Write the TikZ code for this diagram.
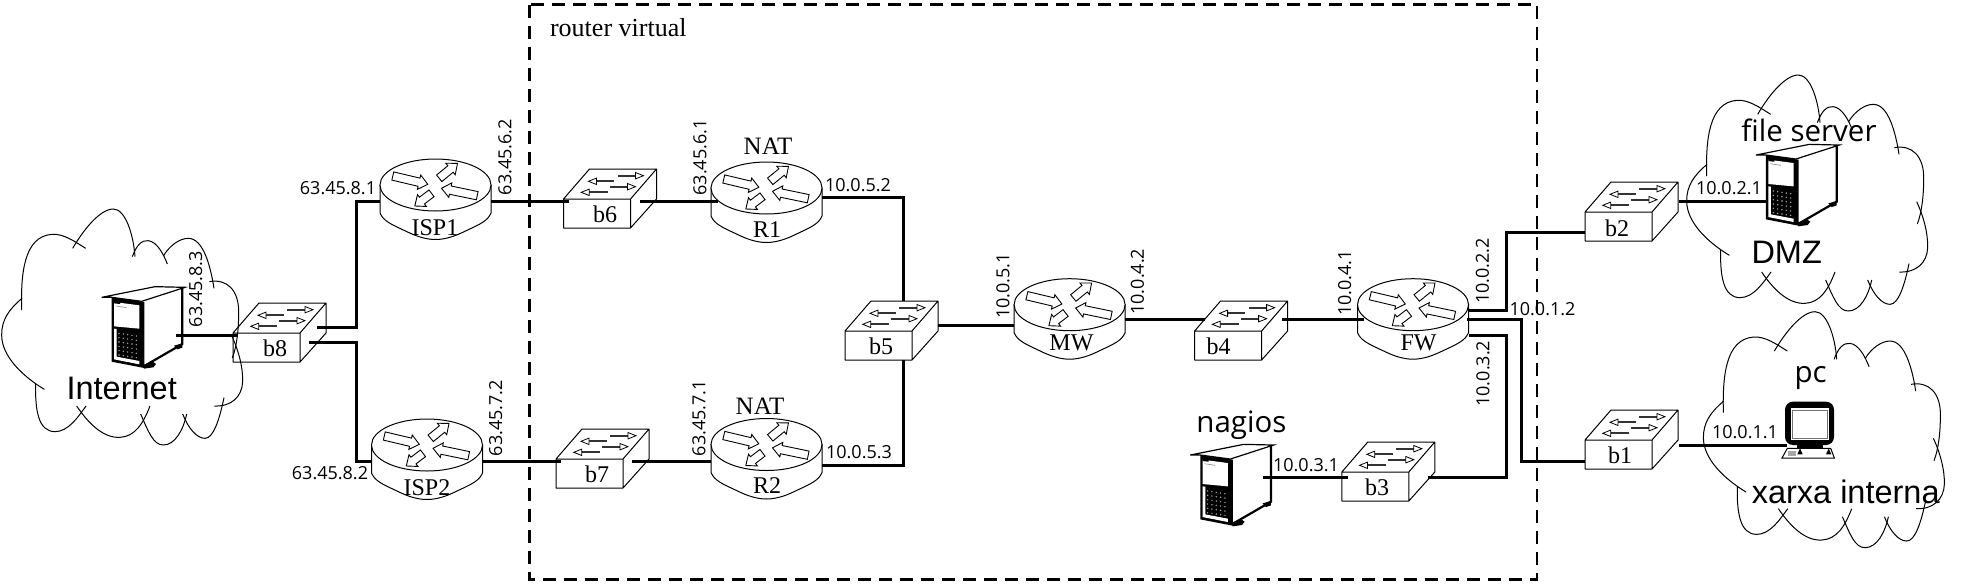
\documentclass[tikz,border=0pt]{standalone}
\usepackage{fontspec}
\setmainfont{Liberation Serif}
\newfontfamily\lblfam{Open Sans}
\newfontfamily\arialfam{Liberation Sans}
\newcommand{\blockarr}[4]{%
  \pgfmathsetmacro\aang{atan2(-(#4-(#2)),#3-(#1))}%
  \pgfmathsetmacro\alen{veclen(#3-(#1),#4-(#2))}%
  \draw[fill=white,line width=.9pt,shift={(#1,#2)},rotate=\aang]
    (0,-4.2)--(\alen-9,-4.2)--(\alen-9,-7.4)--(\alen,0)--(\alen-9,7.4)--(\alen-9,4.2)--(0,4.2)--cycle;}
\newcommand{\swarr}[3]{% tail x, tip x, y
  \pgfmathsetmacro\neck{#2+8*sign(#1-(#2))}%
  \draw[line width=2.2pt,black!80] (#1,#3)--(\neck,#3);
  \draw[fill=white,line width=.8pt] (#2,#3)--(\neck,#3-3.2)--(\neck,#3+3.2)--cycle;}
\tikzset{
  x=1pt,y=-1pt,
  conn/.style={line width=3pt,line join=miter},
  addr/.style={inner sep=0pt,font=\lblfam\fontsize{18}{20}\selectfont},
  addrv/.style={addr,rotate=90},
  devlab/.style={inner sep=0pt,font=\fontsize{24}{26}\selectfont},
  biglab/.style={inner sep=0pt,font=\arialfam\fontsize{32.5}{34}\selectfont},
  hostlab/.style={inner sep=0pt,font=\lblfam\fontsize{29.5}{31}\selectfont},
  router/.pic={
    \draw[fill=white,line width=1pt] (-55.5,0)--(-55.5,28)
      .. controls (-52,36) and (-45,39) .. (-30,46)
      .. controls (-20,51) and (-10,54.5) .. (0,54.5)
      .. controls (10,54.5) and (20,51) .. (30,46)
      .. controls (45,39) and (52,36) .. (55.5,28)--(55.5,0)--cycle;
    \draw[fill=white,line width=1pt] (0,0) ellipse [x radius=55.5,y radius=26];
    \blockarr{-42.7}{-9}{-7.7}{-0.7}
    \blockarr{3.7}{-6.7}{22}{-21.7}
    \blockarr{-4}{8.3}{-20.7}{21}
    \blockarr{41.7}{10.7}{6}{3.3}
  },
  switchbox/.pic={
    \draw[line width=1pt,line join=round] (0,0)--(67,0)--(67,29)--(0,29)--cycle
      (0,0)--(26,-30)--(93,-30)--(67,0) (93,-30)--(93,0)--(67,29);
    \swarr{50.7}{25}{-17.7}
    \swarr{44}{17.7}{-6.7}
    \swarr{54}{80}{-23.3}
    \swarr{46}{72}{-12.3}
  },
  server/.pic={
    \begin{scope}[scale=1/3]
      \fill[white] (125,66)--(247,25)--(247,190)--(130,258)--cycle;
      \draw[line width=1.2pt,fill=white] (5,52)--(165,20)--(255,22)--(125,64)--(35,52)--cycle;
      \fill[black] (35,52)--(133,66)--(133,264)--(35,245)--cycle;
      \fill[white] (42,66)--(118,76)--(118,146)--(42,139)--cycle;
      \fill[black] (42,54)--(60,57)--(60,72)--(42,70)--cycle;
      \fill[black!45] (48,77)--(80,82)--(80,84)--(48,79)--cycle;
      \fill[white] (42,146)--(50,147)--(50,230)--(118,243)--(118,253)--(42,238)--cycle;
      \foreach \i in {0,...,4}{\foreach \j in {0,...,5}{
        \fill[black!35] ({57+\i*13},{160+\j*13+\i*2}) circle [radius=2.4];}}
      \draw[line width=2.2pt] (247,22)--(247,192)--(133,258);
      \fill[black] (222,197)--(247,190)--(247,203)--(232,208)--cycle;
      \fill[black] (130,255)--(158,245)--(168,252)--(160,262)--(132,266)--cycle;
    \end{scope}
  },
  pcbox/.pic={
    \begin{scope}[scale=1/3]
      \fill[black,rounded corners=8pt] (45,35) rectangle (192,165);
      \fill[white] (62,55) rectangle (178,150);
      \draw[line width=.6pt,black!55] (68,60) rectangle (172,146);
      \fill[black] (80,165) rectangle (160,174);
      \draw[line width=1pt,fill=white] (52,175)--(182,175)--(193,204)--(36,204)--cycle;
      \fill[black] (82,193)--(90,175)--(98,193)--cycle;
      \fill[black] (168,193)--(176,175)--(184,193)--cycle;
      \fill[black!35] (55,183) rectangle (78,197);
    \end{scope}
  },
  cloudshape/.pic={
    \begin{scope}[scale=1/3,line width=1pt]
      \draw (65,540) .. controls (62,430) and (72,320) .. (155,313) .. controls (190,310) and (225,335) .. (257,355);
      \draw (218,355) .. controls (250,300) and (300,237) .. (340,237) .. controls (375,237) and (400,310) .. (405,380);
      \draw (397,380) .. controls (410,345) and (425,330) .. (445,332) .. controls (470,335) and (490,370) .. (502,402);
      \draw (490,378) .. controls (510,345) and (540,325) .. (565,325) .. controls (610,325) and (632,410) .. (642,475);
      \draw (628,455) .. controls (680,445) and (718,480) .. (716,550) .. controls (716,600) and (710,650) .. (697,684);
      \draw (695,617) .. controls (715,660) and (729,710) .. (728,755) .. controls (726,800) and (695,830) .. (643,828);
      \draw (66,505) .. controls (25,540) and (5,570) .. (5,615) .. controls (5,680) and (70,740) .. (133,778);
      \draw (107,762) .. controls (105,840) and (115,905) .. (165,905) .. controls (205,905) and (235,860) .. (258,828);
      \draw (230,828) .. controls (265,880) and (310,925) .. (360,922) .. controls (405,920) and (430,880) .. (450,828);
      \draw (422,852) .. controls (445,905) and (460,945) .. (490,945) .. controls (525,945) and (550,900) .. (560,852);
      \draw (548,852) .. controls (565,895) and (590,925) .. (615,925) .. controls (640,925) and (658,870) .. (672,803);
    \end{scope}
  }
}
\begin{document}
\begin{tikzpicture}
\useasboundingbox (0,0) rectangle (1978,584);
% clouds
\pic at (0,130) {cloudshape};
\pic at (1685,-4) {cloudshape};
\pic at (1701.7,232.7) {cloudshape};
% hosts
\pic at (100,280) {server};
\pic at (1188.6,437.7) {server};
\pic at (1754.3,137.7) {server};
\pic at (1770,390) {pcbox};
% routers
\pic at (435.5,185) {router};
\pic at (427,445) {router};
\pic at (766.5,188) {router};
\pic at (766.5,444.5) {router};
\pic at (1069.6,304.7) {router};
\pic at (1413,304.7) {router};
% switches
\pic at (233,333) {switchbox};
\pic at (563.5,199) {switchbox};
\pic at (556,459) {switchbox};
\pic at (845,331) {switchbox};
\pic at (1194.6,331) {switchbox};
\pic at (1341.8,472) {switchbox};
\pic at (1585,212) {switchbox};
\pic at (1585,440) {switchbox};
% ports
\coordinate (srvE) at (175.7,335);
\coordinate (b8W) at (237,335);
\coordinate (b8Ea) at (316.7,327.3);
\coordinate (b8Eb) at (309.3,342.7);
\coordinate (isp1W) at (380,201.7);
\coordinate (isp1E) at (491,201.7);
\coordinate (isp2W) at (372,461);
\coordinate (isp2E) at (482,461.7);
\coordinate (b6W) at (569,201.7);
\coordinate (b6E) at (640,201.7);
\coordinate (r1W) at (718,201.7);
\coordinate (r1E) at (822,197.3);
\coordinate (b7W) at (561,461.7);
\coordinate (b7E) at (632.3,461.7);
\coordinate (r2W) at (711,461.7);
\coordinate (r2E) at (822,465);
\coordinate (b5T) at (903.3,301);
\coordinate (b5B) at (903.3,360);
\coordinate (b5E) at (938,325);
\coordinate (mwW) at (1014,325);
\coordinate (mwE) at (1125,319.3);
\coordinate (b4W) at (1205,319.3);
\coordinate (b4E) at (1282,319.3);
\coordinate (fwW) at (1363.6,319.3);
\coordinate (fwEa) at (1468,310.7);
\coordinate (fwEb) at (1467,319);
\coordinate (fwEc) at (1468.6,335.5);
\coordinate (nagE) at (1262.5,477);
\coordinate (b3W) at (1348.2,477);
\coordinate (b3E) at (1427.9,477);
\coordinate (b2W) at (1585,232.7);
\coordinate (b2E) at (1679,201);
\coordinate (fileW) at (1766.7,201);
\coordinate (b1W) at (1585,461);
\coordinate (b1E) at (1679,445.3);
\coordinate (pcW) at (1786.7,445.3);
\coordinate (cA) at (356.7,201.7);
\coordinate (cB) at (356.7,461);
\coordinate (cC) at (1506,335.5);
\coordinate (cD) at (1506,232.7);
\coordinate (cE) at (1521.7,461);
% connectors
\draw[conn] (srvE)--(b8W);
\draw[conn] (b8Ea)-|(cA)--(isp1W);
\draw[conn] (b8Eb)-|(cB)--(isp2W);
\draw[conn] (isp1E)--(b6W);
\draw[conn] (isp2E)--(b7W);
\draw[conn] (b6E)--(r1W);
\draw[conn] (b7E)--(r2W);
\draw[conn] (r1E)-|(b5T);
\draw[conn] (r2E)-|(b5B);
\draw[conn] (b5E)--(mwW);
\draw[conn] (mwE)--(b4W);
\draw[conn] (b4E)--(fwW);
\draw[conn] (nagE)--(b3W);
\draw[conn] (b3E)-|(cC)--(fwEc);
\draw[conn] (fwEa)-|(cD)--(b2W);
\draw[conn] (fwEb)-|(cE)--(b1W);
\draw[conn] (b2E)--(fileW);
\draw[conn] (b1E)--(pcW);
% dashed frame
\draw[line width=2.6pt,dash pattern=on 13pt off 8pt] (529.5,4.7) rectangle (1537,579.3);
% device labels
\node[inner sep=0pt,font=\fontsize{26}{28}\selectfont] (vrt) at (618.3,28) {router virtual};
\node[devlab] (l1) at (435,228) {ISP1};
\node[devlab] (l2) at (427,488) {ISP2};
\node[devlab] (l3) at (767,230) {R1};
\node[devlab] (l4) at (767,486) {R2};
\node[devlab] (l5) at (1071.4,343) {MW};
\node[devlab] (l6) at (1418.6,343) {FW};
\node[devlab,font=\fontsize{25}{27}\selectfont] (n1) at (768,146) {NAT};
\node[devlab,font=\fontsize{25}{27}\selectfont] (n2) at (760,406) {NAT};
\node[devlab] (s8) at (275,348) {b8};
\node[devlab] (s6) at (605,214) {b6};
\node[devlab] (s7) at (597,474) {b7};
\node[devlab] (s5) at (881,346) {b5};
\node[devlab] (s4) at (1218.6,346) {b4};
\node[devlab] (s3) at (1377,487) {b3};
\node[devlab] (s2) at (1617,228) {b2};
\node[devlab] (s1) at (1620,455) {b1};
% address labels
\node[addr] (a1) at (338,188.3) {63.45.8.1};
\node[addr] (a2) at (330,473) {63.45.8.2};
\node[addrv] (a3) at (195.7,289) {63.45.8.3};
\node[addrv] (a4) at (495.7,418) {63.45.7.2};
\node[addrv] (a5) at (505,157) {63.45.6.2};
\node[addrv] (a6) at (700,157.5) {63.45.6.1};
\node[addrv] (a7) at (699,418) {63.45.7.1};
\node[addr] (a8) at (858,185.3) {10.0.5.2};
\node[addr] (a9) at (859,452) {10.0.5.3};
\node[addrv] (a10) at (1003,286) {10.0.5.1};
\node[addrv] (a11) at (1137.5,281.7) {10.0.4.2};
\node[addrv] (a12) at (1344.6,283) {10.0.4.1};
\node[addrv] (a13) at (1482.5,271) {10.0.2.2};
\node[addrv] (a14) at (1483,373.7) {10.0.3.2};
\node[addr] (a15) at (1542.5,309.3) {10.0.1.2};
\node[addr] (a16) at (1306,465) {10.0.3.1};
\node[addr] (a17) at (1729,188) {10.0.2.1};
\node[addr] (a18) at (1745,432) {10.0.1.1};
% big labels
\node[biglab] (t1) at (121.7,388) {Internet};
\node[biglab] (t2) at (1786.7,252) {DMZ};
\node[biglab] (t3) at (1845.7,492) {xarxa interna};
\node[hostlab] (t4) at (1809,130) {file server};
\node[hostlab] (t5) at (1810.7,378) {pc};
\node[hostlab] (t6) at (1241.4,425) {nagios};
\end{tikzpicture}
\end{document}
